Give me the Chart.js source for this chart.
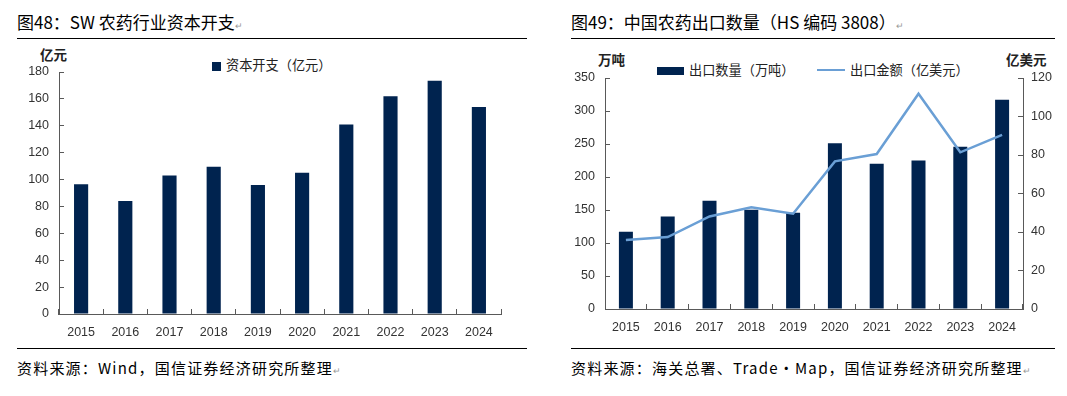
<!DOCTYPE html>
<html>
<head>
<meta charset="utf-8">
<script src="https://cdn.jsdelivr.net/npm/chart.js@4"></script>
<style>
  html, body { margin: 0; padding: 0; background: #fff; }
  body { position: relative; width: 1067px; height: 396px; overflow: hidden; font-family: "Noto Sans CJK SC", sans-serif; color: #000; }
  .abs { position: absolute; white-space: nowrap; }
  .title { font-size: 17px; top: 10px; line-height: 24px; }
  .rule { position: absolute; height: 0; border-top: 1.5px solid #000; }
  .src { font-size: 15px; top: 357px; line-height: 22px; letter-spacing: 1.2px; }
  .mark { color: #999; font-size: 9px; }
  .unit { font-size: 13.5px; font-weight: bold; color: #222; }
  .leg { font-size: 13.2px; color: #222; line-height: 18px; }
  canvas { position: absolute; }
</style>
</head>
<body>
<div class="abs title" style="left:17px">图48：SW 农药行业资本开支<span class="mark">↵</span></div>
<div class="abs title" style="left:571px">图49：中国农药出口数量（HS 编码 3808）<span class="mark">↵</span></div>
<div class="rule" style="left:17px; width:510px; top:38px"></div>
<div class="rule" style="left:571px; width:484px; top:38px"></div>
<div class="rule" style="left:17px; width:510px; top:348px"></div>
<div class="rule" style="left:571px; width:484px; top:348px"></div>
<div class="abs src" style="left:17px">资料来源：Wind，国信证券经济研究所整理<span class="mark">↵</span></div>
<div class="abs src" style="left:571px">资料来源：海关总署、Trade·Map，国信证券经济研究所整理<span class="mark">↵</span></div>

<div class="abs unit" style="left:40px; top:44px">亿元</div>
<div class="abs leg" style="left:212px; top:56px"><span style="display:inline-block;width:9px;height:9px;background:#00234F;margin-right:5px;vertical-align:-1px"></span>资本开支（亿元）</div>

<div class="abs unit" style="left:598px; top:49px">万吨</div>
<div class="abs unit" style="left:1006px; top:49px">亿美元</div>
<div class="abs leg" style="left:657px; top:61px"><span style="display:inline-block;width:27px;height:8px;background:#00234F;margin-right:5px;vertical-align:0px"></span>出口数量（万吨）</div>
<div class="abs leg" style="left:817px; top:61px"><span style="display:inline-block;width:28px;height:2.5px;background:#6A9FD5;margin-right:5px;vertical-align:4px"></span>出口金额（亿美元）</div>

<canvas id="capexChart" width="520" height="300" style="left:0; top:45px"></canvas>
<canvas id="exportChart" width="507" height="300" style="left:560px; top:40px"></canvas>

<script>
const years = ['2015', '2016', '2017', '2018', '2019', '2020', '2021', '2022', '2023', '2024'];
// 资本开支（亿元）
const capex = [96.5, 84, 103, 109.5, 96, 105, 141, 162, 173.5, 154];
// 出口数量（万吨）
const exportVolume = [117, 140, 164, 150.5, 146, 251, 220, 225, 246, 317];
// 出口金额（亿美元）
const exportValue = [35.8, 37.4, 48.1, 52.8, 49.5, 76.7, 80.5, 111.8, 81.4, 90.5];

const navy = '#00234F';
const lightBlue = '#6A9FD5';
const axisColor = '#595959';
const tickFont = { family: 'Liberation Sans, Arial, sans-serif', size: 12.5 };

Chart.defaults.animation = false;

// ticks point inward (negative tick length), so label padding is bumped up
function xScale(height) {
  return {
    grid: { drawOnChartArea: false, tickLength: -5, color: axisColor, offset: true },
    border: { color: axisColor, width: 1 },
    ticks: { color: '#333', font: tickFont, padding: 16, maxRotation: 0 },
    afterFit: s => { s.height = height; }
  };
}
function yScale(pos, width, max, step, pad) {
  return {
    position: pos,
    min: 0,
    max: max,
    grid: { drawOnChartArea: false, tickLength: -5, color: axisColor },
    border: { color: axisColor, width: 1 },
    ticks: { stepSize: step, color: '#333', font: tickFont, padding: pad },
    afterFit: s => { s.width = width; }
  };
}

new Chart(document.getElementById('capexChart'), {
  type: 'bar',
  data: {
    labels: years,
    datasets: [{
      label: '资本开支（亿元）',
      data: capex,
      backgroundColor: navy,
      barPercentage: 0.32,
      categoryPercentage: 1
    }]
  },
  options: {
    responsive: false,
    layout: { padding: { top: 27, right: 19, left: 0, bottom: 0 } },
    plugins: { legend: { display: false }, tooltip: { enabled: false } },
    scales: {
      x: xScale(31),
      y: yScale('left', 59, 180, 20, 15)
    }
  }
});

new Chart(document.getElementById('exportChart'), {
  type: 'bar',
  data: {
    labels: years,
    datasets: [
      {
        type: 'line',
        label: '出口金额（亿美元）',
        data: exportValue,
        yAxisID: 'y1',
        borderColor: lightBlue,
        borderWidth: 2.5,
        pointRadius: 0,
        tension: 0,
        order: 0
      },
      {
        label: '出口数量（万吨）',
        data: exportVolume,
        yAxisID: 'y',
        backgroundColor: navy,
        barPercentage: 0.335,
        categoryPercentage: 1,
        order: 1
      }
    ]
  },
  options: {
    responsive: false,
    layout: { padding: { top: 38, right: 0, left: 0, bottom: 0 } },
    plugins: { legend: { display: false }, tooltip: { enabled: false } },
    scales: {
      x: xScale(31),
      y: yScale('left', 45, 350, 50, 15),
      y1: yScale('right', 44, 120, 20, 13)
    }
  }
});
</script>
</body>
</html>
